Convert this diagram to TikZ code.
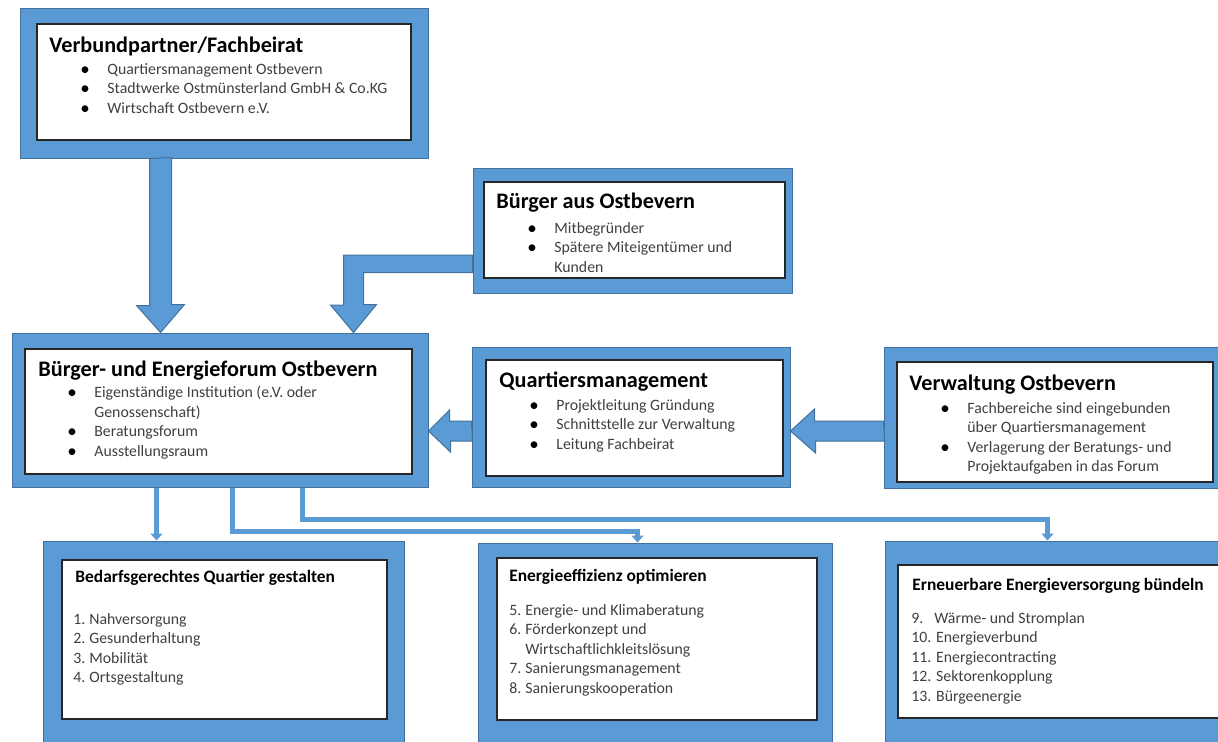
\documentclass[tikz,border=0pt]{standalone}
\usepackage{fontspec}
\setmainfont{Carlito}
\usetikzlibrary{arrows.meta, calc, positioning}

\definecolor{framefill}{HTML}{5B9BD5}
\definecolor{frameline}{HTML}{41719C}
\definecolor{itemgray}{HTML}{404040}

\newcommand{\blt}{\makebox[13.5pt][l]{\raisebox{-0.4pt}{\color{black}\fontsize{9.5}{9.75}\selectfont\textbullet}}}
\newcommand{\nr}[1]{\makebox[8pt][l]{#1}}

\tikzset{
  frame/.style={draw=frameline, fill=framefill, line width=0.5pt, inner sep=0},
  inbox/.style={draw=black!85, fill=white, line width=0.6pt, inner sep=0},
  blockarrow/.style={draw=frameline, fill=framefill, line width=0.5pt, line join=miter},
  link/.style={draw=framefill, line width=2.4pt, -{Triangle[length=3.5pt, width=6pt]}},
  boxtitle/.style={anchor=base west, inner sep=0, font=\fontsize{11.1}{13}\selectfont\bfseries},
  subtitle/.style={anchor=base west, inner sep=0, font=\fontsize{8.7}{10}\selectfont\bfseries},
  itemlist/.style={anchor=north west, inner sep=0, align=left, text=itemgray, font=\fontsize{7.9}{9.75}\selectfont}
}

\begin{document}
\begin{tikzpicture}[x=0.5pt, y=-0.5pt]
\useasboundingbox (0,0) rectangle (1218,741);
\clip (0,0) rectangle (1218,741);

% blue frames
\node[frame, minimum width=204pt, minimum height=75pt] (vbF) at (224,83) {};
\node[frame, minimum width=159.5pt, minimum height=62.5pt] (buF) at (632.5,230.5) {};
\node[frame, minimum width=208pt, minimum height=77pt] (foF) at (220,410) {};
\node[frame, minimum width=159pt, minimum height=70pt] (qmF) at (631,417) {};
\node[frame, minimum width=170.5pt, minimum height=70.5pt] (vwF) at (1054.5,417.5) {};
\node[frame, minimum width=180.5pt, minimum height=104.5pt] (bqF) at (223.5,645.5) {};
\node[frame, minimum width=177pt, minimum height=103.5pt] (eeF) at (655,646.5) {};
\node[frame, minimum width=172.5pt, minimum height=104.5pt] (evF) at (1057.5,645.5) {};

% block arrows
\draw[blockarrow] ($(vbF.south west)+(130,0)$) -- ++(0,147) -- ++(-13,0) -- ($(foF.north west)+(149,0)$) -- ++(24,-28) -- ++(-13,0) -- ++(0,-147) -- cycle;
\draw[blockarrow] ($(buF.west)+(0,24.5)$) -- ++(-129,0) -- ++(0,50) -- ++(-13,0) -- ($(foF.north west)+(342,0)$) -- ++(23,-28) -- ++(-13,0) -- ++(0,-32) -- ++(109,0) -- cycle;
\draw[blockarrow] ($(qmF.west)+(0,4)$) -- ++(-22,0) -- ++(0,-11) -- ($(foF.east)+(0,21)$) -- ++(22,21) -- ++(0,-11) -- ++(22,0) -- cycle;
\draw[blockarrow] ($(vwF.west)+(0,3.5)$) -- ++(-69,0) -- ++(0,-12) -- ($(qmF.east)+(0,14)$) -- ++(25,22) -- ++(0,-12) -- ++(69,0) -- cycle;

% white boxes
\node[inbox, minimum width=187pt, minimum height=58pt] (vbI) at (224,82) {};
\node[inbox, minimum width=150.5pt, minimum height=48pt] (buI) at (634.5,230) {};
\node[inbox, minimum width=193.5pt, minimum height=62.5pt] (foI) at (218.5,411.5) {};
\node[inbox, minimum width=148.5pt, minimum height=58pt] (qmI) at (634.5,418) {};
\node[inbox, minimum width=158pt, minimum height=60pt] (vwI) at (1055,422) {};
\node[inbox, minimum width=162.5pt, minimum height=79.5pt] (bqI) at (224.5,639.5) {};
\node[inbox, minimum width=160pt, minimum height=81pt] (eeI) at (657,639) {};
\node[inbox, minimum width=166pt, minimum height=76.5pt] (evI) at (1064,641.5) {};

% texts
\node[boxtitle] (vbT) at (49,52) {Verbundpartner/Fachbeirat};
\node[itemlist] (vbL) at (80,63) {\blt Quartiersmanagement Ostbevern\\ \blt Stadtwerke Ostmünsterland GmbH \& Co.KG\\ \blt Wirtschaft Ostbevern e.V.};

\node[boxtitle] (buT) at (496,208) {Bürger aus Ostbevern};
\node[itemlist] (buL) at (527,222) {\blt Mitbegründer\\ \blt Spätere Miteigentümer und\\ \hspace*{13.5pt}Kunden};

\node[boxtitle] (foT) at (38,376) {Bürger- und Energieforum Ostbevern};
\node[itemlist] (foL) at (67,386) {\blt Eigenständige Institution (e.V. oder\\ \hspace*{13.5pt}Genossenschaft)\\ \blt Beratungsforum\\ \blt Ausstellungsraum};

\node[boxtitle] (qmT) at (499,387) {Quartiersmanagement};
\node[itemlist] (qmL) at (529,399) {\blt Projektleitung Gründung\\ \blt Schnittstelle zur Verwaltung\\ \blt Leitung Fachbeirat};

\node[boxtitle] (vwT) at (909,390) {Verwaltung Ostbevern};
\node[itemlist] (vwL) at (940,402) {\blt Fachbereiche sind eingebunden\\ \hspace*{13.5pt}über Quartiersmanagement\\ \blt Verlagerung der Beratungs- und\\ \hspace*{13.5pt}Projektaufgaben in das Forum};

\node[subtitle] (bqT) at (75,582) {Bedarfsgerechtes Quartier gestalten};
\node[itemlist] (bqL) at (73,613) {\nr{1.}Nahversorgung\\ \nr{2.}Gesunderhaltung\\ \nr{3.}Mobilität\\ \nr{4.}Ortsgestaltung};

\node[subtitle] (eeT) at (509,581) {Energieeffizienz optimieren};
\node[itemlist] (eeL) at (509,604) {\nr{5.}Energie- und Klimaberatung\\ \nr{6.}Förderkonzept und\\ \hspace*{8pt}Wirtschaftlichkleitslösung\\ \nr{7.}Sanierungsmanagement\\ \nr{8.}Sanierungskooperation};

\node[subtitle] (evT) at (912,590) {Erneuerbare Energieversorgung bündeln};
\node[itemlist] (evL) at (911,612) {\makebox[11.5pt][l]{9.}Wärme- und Stromplan\\ 10. Energieverbund\\ 11. Energiecontracting\\ 12. Sektorenkopplung\\ 13. Bürgeenergie};

% thin connectors
\draw[link] ($(foF.south west)+(145,0)$) -- ($(bqF.north west)+(114,0)$);
\draw[link] ($(foF.south west)+(221,0)$) -- ++(0,44) -| ($(eeF.north west)+(160,0)$);
\draw[link] ($(foF.south west)+(291,0)$) -- ++(0,32) -| ($(evF.north west)+(163,0)$);
\end{tikzpicture}
\end{document}
